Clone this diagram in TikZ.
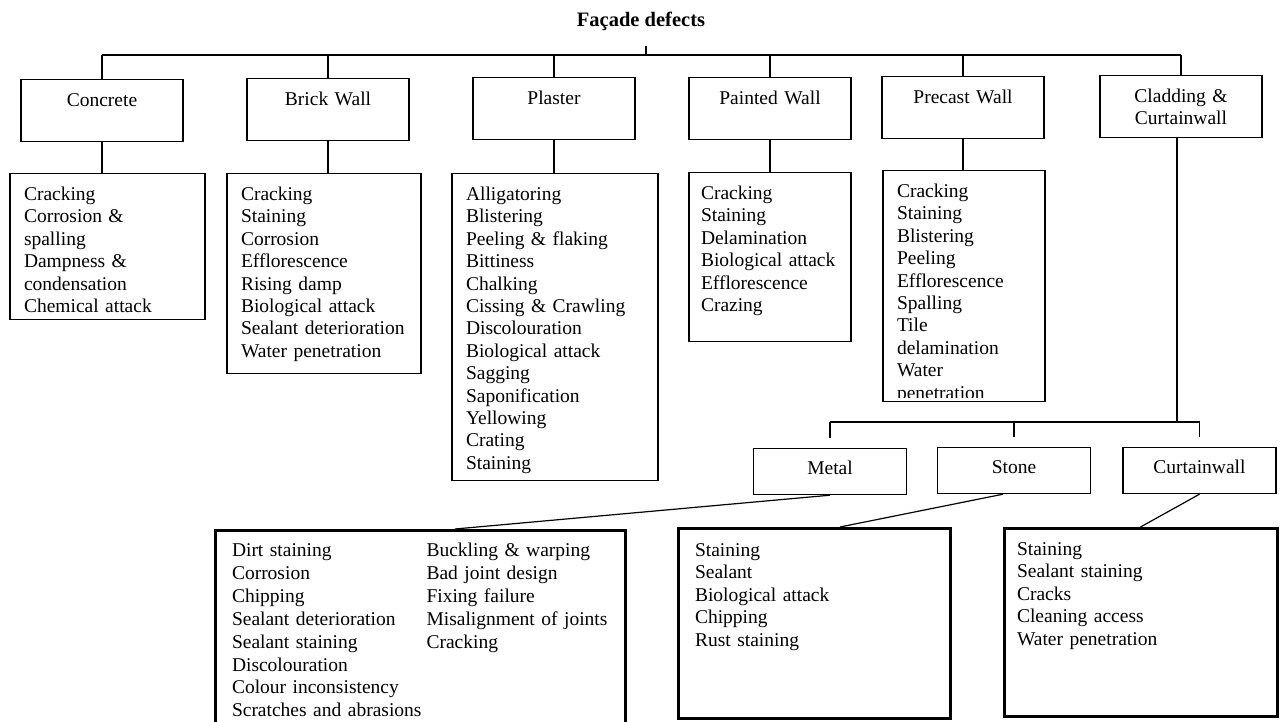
\documentclass[tikz,border=0pt]{standalone}
\usepackage{fontspec}
\setmainfont{Liberation Serif}
\usepackage{tikz}

\begin{document}
\begin{tikzpicture}[x=1pt,y=-1pt,line width=1.2pt,
    every node/.style={font=\fontsize{19.5pt}{22.4pt}\selectfont},
    catbox/.style={draw, anchor=north, inner sep=0pt, text width=#1, align=center, text height=27pt, text depth=35pt},
    catbox/.default=162pt,
    subbox/.style={draw, anchor=north, inner sep=0pt, text width=153pt, align=center, text height=26pt, text depth=20pt},
    listbox/.style={draw, anchor=north, inner xsep=14pt, inner ysep=0pt, align=left, text height=27pt},
    thicklist/.style={listbox, line width=3pt}]
    \useasboundingbox (0,0) rectangle (1280,722);
    \node[anchor=base, inner sep=0pt, font=\bfseries\fontsize{20.5pt}{24pt}\selectfont] (title) at (641,27) {Façade defects};
    \coordinate (bus) at (640,55);
    \coordinate (subbus) at (1000,422);

    \node[catbox] (concrete) at (102,79) {Concrete};
    \node[catbox] (brick) at (328,78) {Brick Wall};
    \node[catbox] (plaster) at (554,77) {Plaster};
    \node[catbox] (painted) at (770,77) {Painted Wall};
    \node[catbox] (precast) at (963,76) {Precast Wall};
    \node[catbox] (cladding) at (1181,75) {Cladding \&\\Curtainwall};

    \node[listbox, text width=167pt, text depth=119pt] (list-concrete) at (107.5,173)
      {Cracking\\Corrosion \&\\spalling\\Dampness \&\\condensation\\Chemical attack};
    \node[listbox, text width=166pt, text depth=173pt] (list-brick) at (324,173)
      {Cracking\\Staining\\Corrosion\\Efflorescence\\Rising damp\\Biological attack\\Sealant deterioration\\Water penetration};
    \node[listbox, text width=178pt, text depth=280pt] (list-plaster) at (555,173)
      {Alligatoring\\Blistering\\Peeling \& flaking\\Bittiness\\Chalking\\Cissing \& Crawling\\Discolouration\\Biological attack\\Sagging\\Saponification\\Yellowing\\Crating\\Staining};
    \node[listbox, inner xsep=12pt, text width=138pt, text depth=142pt] (list-painted) at (770,172)
      {Cracking\\Staining\\Delamination\\Biological attack\\Efflorescence\\Crazing};
    \node[listbox, text width=134pt, text depth=204pt] (list-precast) at (964,170) {};
    \begin{scope}
      \clip (list-precast.north west) rectangle ([yshift=5pt]list-precast.south east);
      \node[listbox, draw=none, text width=134pt] (precast-text) at (list-precast.north)
        {Cracking\\Staining\\Blistering\\Peeling\\Efflorescence\\Spalling\\Tile\\delamination\\Water\\penetration};
    \end{scope}

    \draw ([xshift=5pt,yshift=-14pt]title.south) -- ([xshift=5pt]title.south |- bus);
    \draw (concrete.north |- bus) -- (cladding.north |- bus);
    \foreach \n in {concrete,brick,plaster,painted,precast,cladding}
      \draw (\n.north |- bus) -- (\n.north);
    \foreach \n in {concrete,brick,plaster,painted,precast}
      \draw (\n.south) -- (\n.south |- list-\n.north);

    \node[subbox] (metal) at (830,448) {Metal};
    \node[subbox] (stone) at (1014,447) {Stone};
    \node[subbox] (curtainwall) at (1199.5,447) {Curtainwall};
    \draw ([xshift=-4pt]cladding.south) -- ([xshift=-4pt]cladding.south |- subbus);
    \draw (metal.north |- subbus) -- (curtainwall.north |- subbus);
    \foreach \n in {metal,stone,curtainwall}
      \draw (\n.north |- subbus) -- ([yshift=10pt]\n.north);

    \node[thicklist, inner xsep=17pt, text width=376pt, text height=26pt, text depth=173pt,
          font=\fontsize{19.5pt}{22.9pt}\selectfont] (list-metal) at (420,529)
      {\begin{tabular}[t]{@{}l@{\hspace{5pt}}l@{}}
       Dirt staining & Buckling \& warping\\
       Corrosion & Bad joint design\\
       Chipping & Fixing failure\\
       Sealant deterioration & Misalignment of joints\\
       Sealant staining & Cracking\\
       Discolouration & \\
       Colour inconsistency & \\
       Scratches and abrasions &
       \end{tabular}};
    \node[thicklist, inner xsep=17pt, text width=238pt, text height=28pt, text depth=162pt] (list-stone) at (814,527)
      {Staining\\Sealant\\Biological attack\\Chipping\\Rust staining};
    \node[thicklist, inner xsep=13pt, text width=247pt, text depth=161pt] (list-curtainwall) at (1140.5,527)
      {Staining\\Sealant staining\\Cracks\\Cleaning access\\Water penetration};

    \draw (metal.south) -- ([xshift=35pt]list-metal.north);
    \draw ([xshift=-11pt]stone.south) -- ([xshift=26pt]list-stone.north);
    \draw (curtainwall.south) -- (list-curtainwall.north);
\end{tikzpicture}
\end{document}
